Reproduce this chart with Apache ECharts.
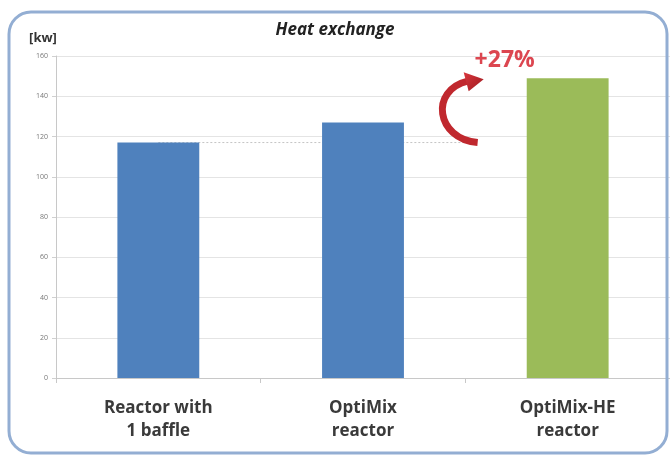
<!DOCTYPE html>
<html>
<head>
<meta charset="utf-8">
<script src="https://cdn.jsdelivr.net/npm/echarts@6/dist/echarts.min.js"></script>
<style>
  html, body { margin: 0; padding: 0; background: #fff; }
  #chart { width: 670px; height: 456px; }
</style>
</head>
<body>
<div id="chart"></div>
<script>
// data
const categories = ['Reactor with\n1 baffle', 'OptiMix\nreactor', 'OptiMix-HE\nreactor'];
const heatValues = [117, 127, 149];
const barColors = ['#4f81bd', '#4f81bd', '#9bbb59'];
const yTicks = [0, 160, 20]; // min, max, interval

const chart = echarts.init(document.getElementById('chart'));

const option = {
  animation: false,
  backgroundColor: '#fff',
  title: {
    text: 'Heat exchange',
    left: 'center',
    top: 17,
    textStyle: {
      fontFamily: 'Open Sans',
      fontStyle: 'italic',
      fontWeight: 'bold',
      fontSize: 17,
      color: '#222'
    }
  },
  grid: {
    left: 56,
    right: -11,
    top: 56,
    bottom: 78
  },
  xAxis: {
    type: 'category',
    data: categories,
    axisLine: { lineStyle: { color: '#c8c8c8' } },
    axisTick: { show: true, length: 5, lineStyle: { color: '#c8c8c8' } },
    axisLabel: {
      margin: 19,
      fontFamily: 'Open Sans',
      fontWeight: 'bold',
      fontSize: 17,
      lineHeight: 23,
      color: '#3a3a3a'
    }
  },
  yAxis: {
    type: 'value',
    min: yTicks[0],
    max: yTicks[1],
    interval: yTicks[2],
    name: '[kw]',
    nameLocation: 'end',
    nameGap: 11,
    nameTextStyle: {
      fontFamily: 'Open Sans',
      fontWeight: 'bold',
      fontSize: 13,
      color: '#333',
      align: 'center',
      padding: [0, 26, 0, 0]
    },
    axisLine: { show: true, lineStyle: { color: '#c8c8c8' } },
    axisTick: { show: true, length: 4, lineStyle: { color: '#d0d0d0' } },
    axisLabel: {
      margin: 8,
      fontFamily: 'Open Sans',
      fontSize: 7,
      color: '#777'
    },
    splitLine: { lineStyle: { color: '#e4e4e4' } }
  },
  series: [{
    type: 'bar',
    data: heatValues.map((v, i) => ({ value: v, itemStyle: { color: barColors[i] } })),
    barWidth: '40%',
    z: 2
  }]
};

chart.setOption(option);

// annotation: dotted reference line from the first bar, curved arrow and gain label
const basePt = chart.convertToPixel({ seriesIndex: 0 }, [0, heatValues[0]]);
const peakPt = chart.convertToPixel({ seriesIndex: 0 }, [2, heatValues[2]]);
const gain = Math.round((heatValues[2] / heatValues[0] - 1) * 100);
const tailX = peakPt[0] - 90;
const y0 = basePt[1];
const y1 = peakPt[1];
const arrowFill = new echarts.graphic.LinearGradient(0, 0, 1, 1, [
  { offset: 0, color: '#d9373d' },
  { offset: 1, color: '#9e1a20' }
]);

chart.setOption({
  graphic: [
    {
      type: 'rect',
      silent: true,
      z: 100,
      shape: { x: 9, y: 12, width: 658, height: 441, r: 22 },
      style: { fill: 'none', stroke: '#93aed3', lineWidth: 3 }
    },
    {
      type: 'line',
      silent: true,
      z: 1,
      shape: { x1: basePt[0], y1: y0, x2: tailX, y2: y0 },
      style: { stroke: '#c4c4c4', lineWidth: 1, lineDash: [2, 2] }
    },
    {
      type: 'bezierCurve',
      silent: true,
      z: 50,
      shape: {
        x1: tailX, y1: y0,
        cpx1: tailX - 42, cpy1: y0 - 4,
        cpx2: tailX - 48, cpy2: y1 + 12,
        x2: tailX - 10, y2: y1 + 3
      },
      style: { stroke: '#c0282e', lineWidth: 7, fill: 'none' }
    },
    {
      type: 'polygon',
      silent: true,
      z: 51,
      shape: {
        points: [
          [tailX - 14, y1 - 6],
          [tailX + 6, y1 + 1],
          [tailX - 9, y1 + 13]
        ]
      },
      style: { fill: arrowFill }
    },
    {
      type: 'text',
      silent: true,
      z: 50,
      x: peakPt[0] - 63,
      y: y1 - 6,
      style: {
        text: '+' + gain + '%',
        fontFamily: 'Open Sans',
        fontWeight: 'bold',
        fontSize: 23,
        fill: '#dc4650',
        align: 'center',
        verticalAlign: 'bottom'
      }
    }
  ]
});
</script>
</body>
</html>
